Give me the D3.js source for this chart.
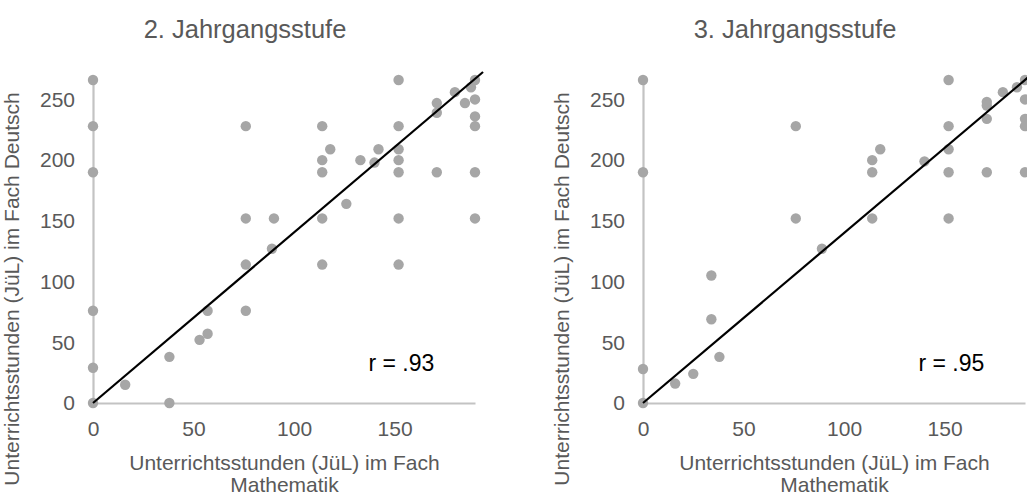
<!DOCTYPE html>
<html>
<head>
<meta charset="utf-8">
<script src="https://cdn.jsdelivr.net/npm/d3@7"></script>
<style>
  html, body { margin: 0; padding: 0; background: #fff; }
  svg { display: block; font-family: "Liberation Sans", Arial, sans-serif; }
</style>
</head>
<body>
<svg id="chart" width="1027" height="495"></svg>
<script>
// Jahreswochenstunden (JüL) Mathematik vs. Deutsch, one panel per grade
const panelTitles = ["2. Jahrgangsstufe", "3. Jahrgangsstufe"];
const xTickValues = [0, 50, 100, 150];
const yTickValues = [0, 50, 100, 150, 200, 250];
const xMax = 190;
const yMax = 266;

// [Mathematik, Deutsch]
const grade2Points = [
  [0, 266], [0, 228], [0, 190], [0, 76], [0, 29], [0, 0],
  [16, 15], [38, 38], [38, 0], [53, 52], [57, 57], [57, 76],
  [76, 228], [76, 152], [76, 114], [76, 76],
  [89, 127], [90, 152],
  [114, 228], [114, 200], [114, 190], [114, 152], [114, 114], [118, 209],
  [126, 164], [133, 200], [140, 198], [142, 209],
  [152, 266], [152, 228], [152, 209], [152, 200], [152, 190], [152, 152], [152, 114],
  [171, 247], [171, 239], [171, 190], [180, 256], [185, 247], [188, 260],
  [190, 266], [190, 250], [190, 236], [190, 228], [190, 190], [190, 152]
];
const grade3Points = [
  [0, 266], [0, 190], [0, 28], [0, 0],
  [16, 16], [25, 24], [34, 105], [34, 69], [38, 38],
  [76, 228], [76, 152], [89, 127],
  [114, 200], [114, 190], [114, 152], [118, 209],
  [140, 199],
  [152, 266], [152, 228], [152, 209], [152, 190], [152, 152],
  [171, 248], [171, 245], [171, 234], [171, 190], [179, 256], [186, 260],
  [190, 266], [190, 250], [190, 234], [190, 228], [190, 190]
];
// linear trend lines (slope, intercept) and correlation
const trendSlopes = [1.405, 1.40];
const trendIntercepts = [0, 0];
const trendXEnd = 194;
const correlations = [".93", ".95"];

const xAxisTitle = ["Unterrichtsstunden (JüL) im Fach", "Mathematik"];
const yAxisTitle = "Unterrichtsstunden (JüL) im Fach Deutsch";

const svg = d3.select("#chart");
const textColor = "#595959";
const axisColor = "#c3c3c3";
const dotColor = "#a6a6a6";

const panels = [
  { left: 93, points: grade2Points },
  { left: 643, points: grade3Points }
];
const plotW = 382, plotTop = 80, plotBottom = 403;

panels.forEach((p, i) => {
  const x = d3.scaleLinear().domain([0, xMax]).range([p.left, p.left + plotW]);
  const y = d3.scaleLinear().domain([0, yMax]).range([plotBottom, plotTop]);
  const g = svg.append("g");

  // title
  g.append("text")
    .attr("x", p.left + 152).attr("y", 38)
    .attr("text-anchor", "middle")
    .attr("font-size", 25.5)
    .attr("fill", textColor)
    .text(panelTitles[i]);

  // x axis
  const xa = g.append("g")
    .attr("transform", `translate(0,${plotBottom})`)
    .call(d3.axisBottom(x).tickValues(xTickValues).tickSize(0).tickSizeOuter(0).tickPadding(18));
  xa.select(".domain").attr("stroke", axisColor).attr("stroke-width", 2.2);
  xa.selectAll("text").attr("font-size", 21).attr("fill", textColor)
    .attr("font-family", "Liberation Sans, Arial, sans-serif");

  // y axis
  const ya = g.append("g")
    .attr("transform", `translate(${p.left},0)`)
    .call(d3.axisLeft(y).tickValues(yTickValues).tickSize(0).tickSizeOuter(0).tickPadding(18));
  ya.select(".domain").attr("stroke", axisColor).attr("stroke-width", 2.2);
  ya.selectAll("text").attr("font-size", 21).attr("fill", textColor)
    .attr("font-family", "Liberation Sans, Arial, sans-serif");

  // axis titles
  const xt = g.append("text")
    .attr("text-anchor", "middle")
    .attr("font-size", 21)
    .attr("fill", textColor);
  xAxisTitle.forEach((line, k) => {
    xt.append("tspan").attr("x", p.left + 191.5).attr("y", 470 + k * 22).text(line);
  });
  g.append("text")
    .attr("transform", `translate(${p.left - 74},289) rotate(-90)`)
    .attr("text-anchor", "middle")
    .attr("font-size", 21)
    .attr("fill", textColor)
    .text(yAxisTitle);

  // points
  g.append("g").selectAll("circle")
    .data(p.points)
    .join("circle")
    .attr("cx", d => x(d[0]))
    .attr("cy", d => y(d[1]))
    .attr("r", 5.2)
    .attr("fill", dotColor);

  // trend line
  const line = d3.line().x(d => x(d[0])).y(d => y(d[1]));
  g.append("path")
    .datum([0, trendXEnd].map(v => [v, trendIntercepts[i] + trendSlopes[i] * v]))
    .attr("d", line)
    .attr("fill", "none")
    .attr("stroke", "#000")
    .attr("stroke-width", 2.2);

  // correlation label
  g.append("text")
    .attr("x", x(137)).attr("y", 371)
    .attr("font-size", 23)
    .attr("fill", "#000")
    .text("r = " + correlations[i]);
});
</script>
</body>
</html>
